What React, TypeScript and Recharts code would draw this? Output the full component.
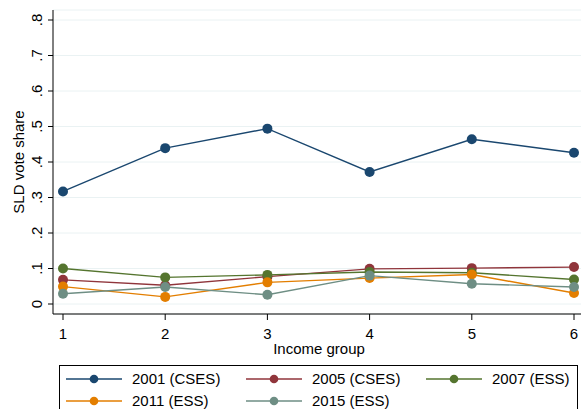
import React from "react";
import { LineChart, Line, XAxis, YAxis, CartesianGrid, Legend } from "recharts";

const incomeGroups = [1, 2, 3, 4, 5, 6];
const s2001 = [0.317, 0.439, 0.494, 0.372, 0.464, 0.426];
const s2005 = [0.068, 0.053, 0.077, 0.099, 0.101, 0.104];
const s2007 = [0.1, 0.075, 0.082, 0.09, 0.088, 0.069];
const s2011 = [0.049, 0.02, 0.061, 0.073, 0.083, 0.031];
const s2015 = [0.029, 0.048, 0.026, 0.08, 0.057, 0.048];

const seriesNames = ["2001 (CSES)", "2005 (CSES)", "2007 (ESS)", "2011 (ESS)", "2015 (ESS)"];
const seriesKeys = ["s2001", "s2005", "s2007", "s2011", "s2015"];
const seriesColors = ["#1a476f", "#90353b", "#55752f", "#e37e00", "#6e8e84"];
const seriesValues = [s2001, s2005, s2007, s2011, s2015];

const yTicks = [0, 0.1, 0.2, 0.3, 0.4, 0.5, 0.6, 0.7, 0.8];
const yTickLabels = ["0", ".1", ".2", ".3", ".4", ".5", ".6", ".7", ".8"];
const xTicks = [1, 2, 3, 4, 5, 6];

const data = incomeGroups.map((g, i) => {
  const row: Record<string, number> = { group: g };
  seriesKeys.forEach((k, j) => {
    row[k] = seriesValues[j][i];
  });
  return row;
});

const FONT = "'Liberation Sans', Arial, Helvetica, sans-serif";

const YTick = (props: any) => {
  const { x, y, payload } = props;
  const idx = yTicks.findIndex((t) => Math.abs(t - payload.value) < 1e-9);
  const label = idx >= 0 ? yTickLabels[idx] : String(payload.value);
  const bx = x - 4;
  return (
    <text
      x={bx}
      y={y}
      transform={`rotate(-90, ${bx}, ${y})`}
      textAnchor="middle"
      fontSize={15}
      fontFamily={FONT}
      fill="#000"
    >
      {label}
    </text>
  );
};

const XTick = (props: any) => {
  const { x, y, payload } = props;
  return (
    <text x={x} y={y} dy="0.71em" textAnchor="middle" fontSize={15} fontFamily={FONT} fill="#000">
      {payload.value}
    </text>
  );
};

const YLabel = (props: any) => {
  const vb = props.viewBox || { x: 0, y: 10, width: 53, height: 304 };
  const cx = 24;
  const cy = vb.y + vb.height / 2;
  return (
    <text
      x={cx}
      y={cy}
      transform={`rotate(-90, ${cx}, ${cy})`}
      textAnchor="middle"
      fontSize={15}
      fontFamily={FONT}
      fill="#000"
    >
      SLD vote share
    </text>
  );
};

const XLabel = (props: any) => {
  const vb = props.viewBox || { x: 53, y: 314, width: 528, height: 52 };
  return (
    <text x={vb.x + vb.width / 2 + 2} y={vb.y + 40} textAnchor="middle" fontSize={15} fontFamily={FONT} fill="#000">
      Income group
    </text>
  );
};

const colX = [6, 186, 366];
const rowY = [13, 35];

const renderLegend = () => (
  <div
    style={{
      position: "relative",
      marginLeft: 59,
      width: 519,
      height: 44,
      boxSizing: "border-box",
      borderTop: "1px solid #000",
      borderLeft: "1px solid #000",
      borderRight: "1px solid #000",
      fontFamily: FONT,
      fontSize: 15,
      color: "#000",
    }}
  >
    {seriesNames.map((name, i) => {
      const col = i % 3;
      const row = Math.floor(i / 3);
      const left = colX[col];
      const top = rowY[row];
      return (
        <div key={name} style={{ position: "absolute", left, top: top - 10, height: 20, whiteSpace: "nowrap" }}>
          <svg width={58} height={20} style={{ position: "absolute", left: 0, top: 0 }}>
            <line x1={0} y1={10} x2={56} y2={10} stroke={seriesColors[i]} strokeWidth={1.5} />
            <circle cx={28} cy={10} r={4.3} fill={seriesColors[i]} />
          </svg>
          <span style={{ position: "absolute", left: 66, top: 1, lineHeight: "18px" }}>{name}</span>
        </div>
      );
    })}
  </div>
);

export default function App() {
  return (
    <div style={{ position: "absolute", left: 0, top: 0, width: 581, height: 409, background: "#fff" }}>
      <LineChart width={581} height={409} data={data} margin={{ top: 10, right: 0, bottom: 0, left: 0 }}>
        <CartesianGrid vertical={false} stroke="#eaf2f3" strokeWidth={1} />
        <XAxis
          dataKey="group"
          type="number"
          domain={[1, 6]}
          ticks={xTicks}
          padding={{ left: 10, right: 7 }}
          height={51}
          tickSize={6}
          tickMargin={8}
          tick={<XTick />}
          axisLine={{ stroke: "#000" }}
          tickLine={{ stroke: "#000" }}
          label={<XLabel />}
        />
        <YAxis
          type="number"
          domain={[0, 0.8]}
          ticks={yTicks}
          padding={{ top: 10, bottom: 10 }}
          width={53}
          tickSize={5}
          tick={<YTick />}
          axisLine={{ stroke: "#000" }}
          tickLine={{ stroke: "#000" }}
          label={<YLabel />}
        />
        <Legend
          verticalAlign="bottom"
          align="left"
          content={renderLegend}
          wrapperStyle={{ left: 0, bottom: 0, width: 581, height: 44 }}
        />
        {seriesKeys.map((k, i) => (
          <Line
            key={k}
            dataKey={k}
            name={seriesNames[i]}
            stroke={seriesColors[i]}
            strokeWidth={1.4}
            dot={{ r: 5, fill: seriesColors[i], stroke: seriesColors[i], strokeWidth: 0 }}
            isAnimationActive={false}
          />
        ))}
      </LineChart>
    </div>
  );
}
